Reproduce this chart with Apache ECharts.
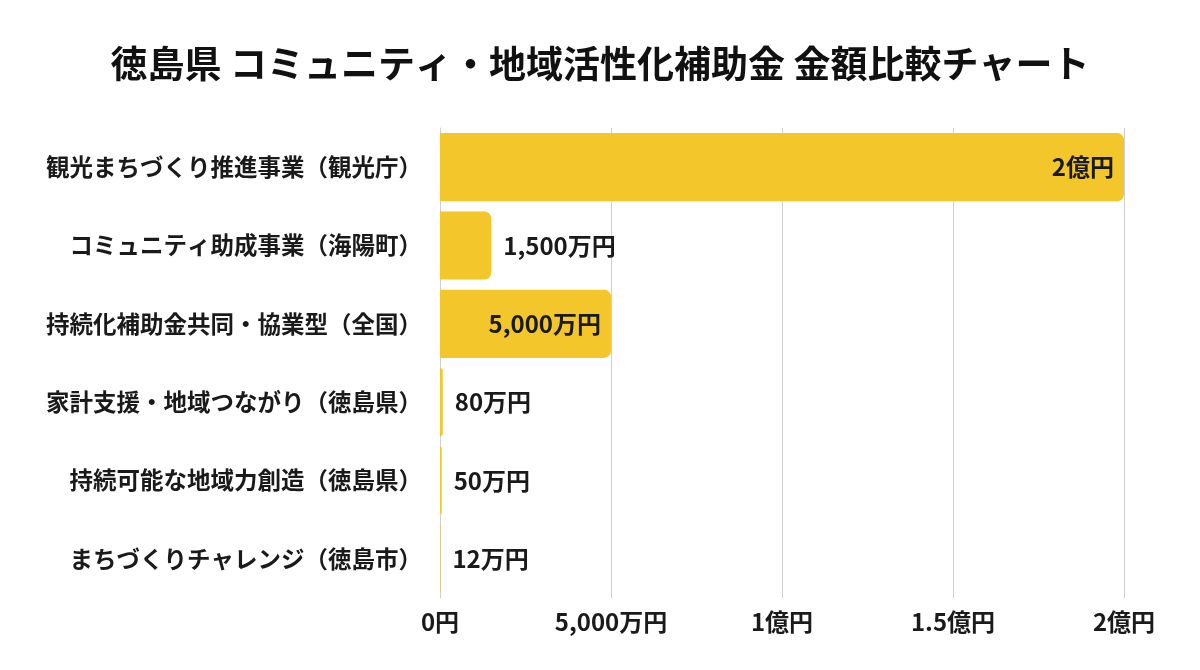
<!DOCTYPE html>
<html>
<head>
<meta charset="utf-8">
<script src="https://cdn.jsdelivr.net/npm/echarts@6/dist/echarts.min.js"></script>
<style>
  html, body { margin: 0; padding: 0; background: #fff; }
  #main { width: 1200px; height: 670px; }
</style>
</head>
<body>
<div id="main"></div>
<script>
// 補助金名（上から順）
const categories = [
  '観光まちづくり推進事業（観光庁）',
  'コミュニティ助成事業（海陽町）',
  '持続化補助金共同・協業型（全国）',
  '家計支援・地域つながり（徳島県）',
  '持続可能な地域力創造（徳島県）',
  'まちづくりチャレンジ（徳島市）'
];
// 金額（万円）
const amounts = [20000, 1500, 5000, 80, 50, 12];
const amountLabels = ['2億円', '1,500万円', '5,000万円', '80万円', '50万円', '12万円'];
// 内側にラベルを置くバー
const insideLabel = [true, false, true, false, false, false];
const tickLabels = { 0: '0円', 5000: '5,000万円', 10000: '1億円', 15000: '1.5億円', 20000: '2億円' };

const FONT = '"Noto Sans CJK JP", "Noto Sans", sans-serif';
const chart = echarts.init(document.getElementById('main'));

chart.setOption({
  backgroundColor: '#fff',
  textStyle: { fontFamily: FONT },
  title: {
    text: '徳島県 コミュニティ・地域活性化補助金 金額比較チャート',
    left: 'center',
    top: 40,
    textStyle: { fontFamily: FONT, fontSize: 37, fontWeight: 'bold', color: '#111' }
  },
  grid: { left: 440, right: 76, top: 128, bottom: 72 },
  xAxis: {
    type: 'value',
    min: 0,
    max: 20000,
    interval: 5000,
    axisLine: { show: false },
    axisTick: { show: false },
    splitLine: { lineStyle: { color: '#cfcfcf', width: 1 } },
    axisLabel: {
      margin: 12,
      fontSize: 24,
      fontWeight: 'bold',
      color: '#1a1a1a',
      fontFamily: FONT,
      formatter: (v) => tickLabels[v] || ''
    }
  },
  yAxis: {
    type: 'category',
    inverse: true,
    data: categories,
    axisLine: { show: true, lineStyle: { color: '#cfcfcf' } },
    axisTick: { show: false },
    axisLabel: {
      margin: 18,
      fontSize: 23.5,
      fontWeight: 'bold',
      color: '#1a1a1a',
      fontFamily: FONT
    }
  },
  series: [
    {
      type: 'bar',
      barCategoryGap: '13%',
      data: amounts.map((v, i) => ({
        value: v,
        label: {
          position: insideLabel[i] ? 'insideRight' : 'right',
          distance: insideLabel[i] ? 10 : 12
        }
      })),
      itemStyle: { color: '#F3C62B', borderRadius: [0, 7, 7, 0] },
      label: {
        show: true,
        fontSize: 24,
        fontWeight: 'bold',
        color: '#1a1a1a',
        fontFamily: FONT,
        formatter: (p) => amountLabels[p.dataIndex]
      }
    }
  ]
});
</script>
</body>
</html>
